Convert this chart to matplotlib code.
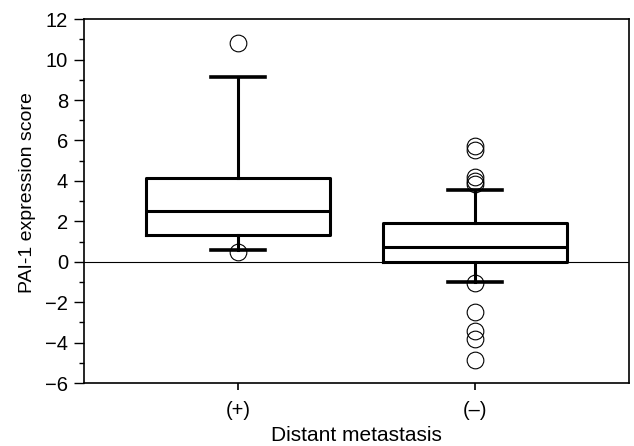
import matplotlib
matplotlib.use('Agg')
import matplotlib.pyplot as plt
from matplotlib.ticker import MultipleLocator

plt.rcParams['font.family'] = ['Liberation Sans', 'DejaVu Sans']

groups = ['(+)', '(\u2013)']
q1 = [1.35, 0.0]
median = [2.5, 0.75]
q3 = [4.15, 1.9]
whisker_low = [0.6, -1.0]
whisker_high = [9.15, 3.55]
outliers = [
    [10.8, 0.5],
    [5.75, 5.55, 4.2, 4.0, 3.85, -1.05, -2.5, -3.4, -3.8, -4.85],
]

stats = []
for i in range(len(groups)):
    stats.append({'q1': q1[i], 'med': median[i], 'q3': q3[i],
                  'whislo': whisker_low[i], 'whishi': whisker_high[i],
                  'fliers': outliers[i], 'label': groups[i]})

fig = plt.figure(figsize=(6.34, 4.46), dpi=100)
ax = fig.add_axes([0.132, 0.141, 0.860, 0.816])

ax.axhline(0, color='black', lw=0.8, zorder=1)
ax.bxp(stats, positions=[1, 2], widths=0.775,
       boxprops=dict(color='black', lw=2.2),
       medianprops=dict(color='black', lw=2.2),
       whiskerprops=dict(color='black', lw=2.2),
       capprops=dict(color='black', lw=2.6),
       capwidths=0.23,
       flierprops=dict(marker='o', markersize=12, markerfacecolor='none',
                       markeredgecolor='black', markeredgewidth=0.8))

ax.set_xlim(0.35, 2.65)
ax.set_ylim(-6, 12)
ax.yaxis.set_major_locator(MultipleLocator(2))
ax.yaxis.set_minor_locator(MultipleLocator(1))
ax.set_yticklabels([str(int(v)).replace('-', '\u2212') for v in ax.get_yticks()])
ax.tick_params(axis='y', which='major', length=7.2, width=1, labelsize=14.5, pad=4)
ax.tick_params(axis='y', which='minor', length=3.6, width=1)
ax.tick_params(axis='x', length=5, width=1.2, labelsize=14.5, pad=8)
for s in ax.spines.values():
    s.set_linewidth(1.2)

ax.set_ylabel('PAI-1 expression score', fontsize=14)
ax.yaxis.set_label_coords(-0.087, 0.523)
ax.set_xlabel('Distant metastasis', fontsize=15, labelpad=4)

fig.savefig('out.png', dpi=100)
